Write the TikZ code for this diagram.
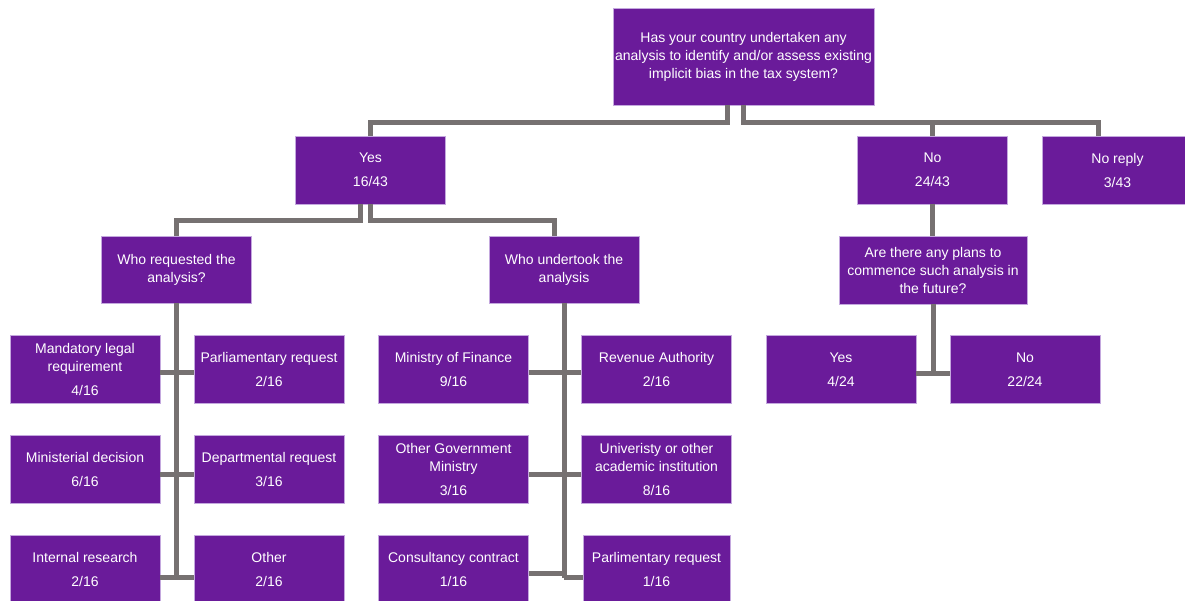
\documentclass[tikz,border=0pt]{standalone}
\usepackage{fontspec}
\setmainfont{Liberation Sans}
\usetikzlibrary{positioning, calc}
\definecolor{boxpurple}{RGB}{106,27,154}
\definecolor{boxedge}{RGB}{196,168,222}
\definecolor{linkgray}{RGB}{118,113,113}
\tikzset{
  chart/.style={
	x=1pt, y=-1pt, % coordinates in pixels of the slide, y going down
	node distance=100pt, % distance between the rows of answer boxes
	every node/.style={font=\fontsize{14}{18}\selectfont},
  },
  box/.style={fill=boxpurple, draw=boxedge, line width=0.7pt, text=white, align=center,
	minimum width=150pt, minimum height=68pt, inner sep=2pt},
  link/.style={draw=linkgray, line width=5pt}, % the grey connectors
}
\begin{document}
\begin{tikzpicture}[chart]
	  \useasboundingbox (0,0) rectangle (1185,600);
	  % question and first answers
	  \node[box, minimum width=261pt, minimum height=97pt] (q) at (743.5,56.5) {Has your country undertaken any\\analysis to identify and/or assess existing\\implicit bias in the tax system?};
	  \node[box] (yes) at (370.5,170) {Yes\\[6pt]16/43};
	  \node[box, right of=yes, xshift=462] (no) {No\\[6pt]24/43};
	  \node[box, right of=no, xshift=85] (nr) {No reply\\[6pt]3/43};
	  \node[box, minimum height=67pt] (req) at (176.5,269.5) {Who requested the\\analysis?};
	  \node[box, right of=req, xshift=287.5, minimum height=67pt] (und) {Who undertook the\\analysis};
	  \node[box, minimum width=188pt] (plan) at (933,270) {Are there any plans to\\commence such analysis in\\the future?};
	  % who requested
	  \node[box] (a1) at (85,369.5) {Mandatory legal\\requirement\\[6pt]4/16};
	  \node[box, below of=a1] (a2) {Ministerial decision\\[6pt]6/16};
	  \node[box, below of=a2] (a3) {Internal research\\[6pt]2/16};
	  \node[box, right of=a1, xshift=84] (b1) {Parliamentary request\\[6pt]2/16};
	  \node[box, right of=a2, xshift=84] (b2) {Departmental request\\[6pt]3/16};
	  \node[box, right of=a3, xshift=84] (b3) {Other\\[6pt]2/16};
	  % who undertook
	  \node[box] (c1) at (453.5,369.5) {Ministry of Finance\\[6pt]9/16};
	  \node[box, below of=c1] (c2) {Other Government\\Ministry\\[6pt]3/16};
	  \node[box, below of=c2] (c3) {Consultancy contract\\[6pt]1/16};
	  \node[box, right of=c1, xshift=103] (d1) {Revenue Authority\\[6pt]2/16};
	  \node[box, right of=c2, xshift=103] (d2) {Univeristy or other\\academic institution\\[6pt]8/16};
	  \node[box, right of=c3, xshift=103, minimum width=147pt] (d3) {Parlimentary request\\[6pt]1/16};
	  % plans
	  \node[box] (py) at (841,369.5) {Yes\\[6pt]4/24};
	  \node[box, right of=py, xshift=84] (pn) {No\\[6pt]22/24};
	  \draw[link] ([xshift=-16]q.south) -- ++(0,17) -| (yes.north)
		  (q.south) -- ++(0,17) -| ([xshift=-19]nr.north)
		  (no.north) -- ++(0,-14)
		  ([xshift=-10]yes.south) -- ++(0,16) -| (req.north)
		  (yes.south) -- ++(0,16) -| ([xshift=-10]und.north)
		  (no.south) -- (no.south |- plan.north)
		  (req.south) -- ([yshift=-8]req.south |- a3.east)
		  (und.south) -- ([yshift=-8]und.south |- c3.east)
		  ([yshift=-4]c3.east) -- ([yshift=-4]c3.east -| und.south)
		  ([yshift=-8]und.south |- c3.east) -- ([yshift=-8]d3.west)
		  (plan.south) -- ([yshift=-3.5]plan.south |- py.east)
		  ([yshift=-3.5]py.east) -- ([yshift=-3.5]pn.west)
	  ;
	  \foreach \r/\s in {1/-3, 2/-5, 3/-8} {
		  \draw[link] ([yshift=\s]a\r.east) -- ([yshift=\s]b\r.west);
	  }
	  \foreach \r/\s in {1/-3, 2/-5} {
		  \draw[link] ([yshift=\s]c\r.east) -- ([yshift=\s]d\r.west);
	  }
\end{tikzpicture}
\end{document}
